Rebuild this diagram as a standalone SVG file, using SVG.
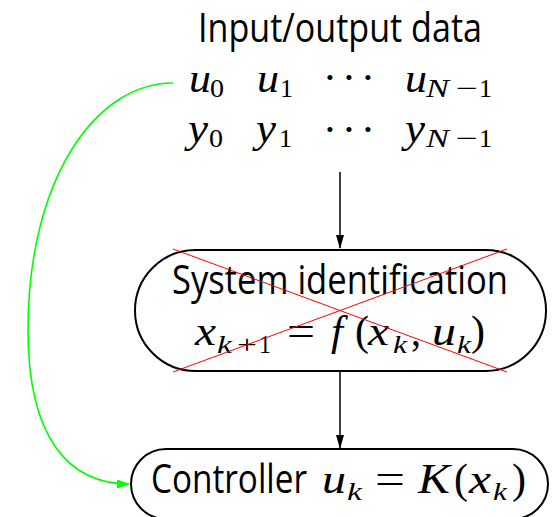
<svg xmlns="http://www.w3.org/2000/svg" width="553" height="517" viewBox="0 0 553 517">
<style>
.sans{font-family:"Open Sans","Liberation Sans",sans-serif;font-size:40px;fill:#000}
.mi{font-family:"Liberation Serif",serif;font-style:italic;font-size:43px;fill:#000}
.mr{font-family:"Liberation Serif",serif;font-style:normal;font-size:43px;fill:#000}
.si{font-family:"Liberation Serif",serif;font-style:italic;font-size:26px;fill:#000}
.sr{font-family:"Liberation Serif",serif;font-style:normal;font-size:26px;fill:#000}
.box{fill:none;stroke:#000;stroke-width:2}
.conn{fill:none;stroke:#000;stroke-width:1.5}
</style>
<defs>
<marker id="ah" markerWidth="14" markerHeight="8" refX="13" refY="4" orient="auto" markerUnits="userSpaceOnUse"><path d="M0,0 L14,4 L0,8 z" fill="#000"/></marker>
<marker id="ahg" markerWidth="13" markerHeight="9" refX="12" refY="4.5" orient="auto" markerUnits="userSpaceOnUse"><path d="M0,0 L13,4.5 L0,9 z" fill="#00ff00"/></marker>
</defs>
<g id="data">
<text class="sans" x="198" y="42" textLength="284" lengthAdjust="spacingAndGlyphs">Input/output data</text>
<text><tspan class="mi" x="189" y="92" textLength="22" lengthAdjust="spacingAndGlyphs">u</tspan><tspan class="sr" x="210" y="97" textLength="14" lengthAdjust="spacingAndGlyphs">0</tspan></text>
<text><tspan class="mi" x="257" y="92" textLength="22" lengthAdjust="spacingAndGlyphs">u</tspan><tspan class="sr" x="280" y="97" textLength="13" lengthAdjust="spacingAndGlyphs">1</tspan></text>
<text class="mr" text-anchor="middle"><tspan x="330" y="92">·</tspan><tspan x="349" y="92">·</tspan><tspan x="368" y="92">·</tspan></text>
<text><tspan class="mi" x="405" y="92" textLength="22" lengthAdjust="spacingAndGlyphs">u</tspan><tspan class="si" x="426" y="97" textLength="23" lengthAdjust="spacingAndGlyphs">N</tspan><tspan class="sr" x="456" y="97" textLength="22" lengthAdjust="spacingAndGlyphs">−</tspan><tspan class="sr" x="479" y="97" textLength="13" lengthAdjust="spacingAndGlyphs">1</tspan></text>
<text><tspan class="mi" x="188" y="142" textLength="20" lengthAdjust="spacingAndGlyphs">y</tspan><tspan class="sr" x="209" y="147" textLength="14" lengthAdjust="spacingAndGlyphs">0</tspan></text>
<text><tspan class="mi" x="256" y="142" textLength="20" lengthAdjust="spacingAndGlyphs">y</tspan><tspan class="sr" x="279" y="147" textLength="13" lengthAdjust="spacingAndGlyphs">1</tspan></text>
<text class="mr" text-anchor="middle"><tspan x="330" y="144">·</tspan><tspan x="349" y="144">·</tspan><tspan x="368" y="144">·</tspan></text>
<text><tspan class="mi" x="405" y="142" textLength="20" lengthAdjust="spacingAndGlyphs">y</tspan><tspan class="si" x="426" y="147" textLength="23" lengthAdjust="spacingAndGlyphs">N</tspan><tspan class="sr" x="456" y="147" textLength="22" lengthAdjust="spacingAndGlyphs">−</tspan><tspan class="sr" x="479" y="147" textLength="13" lengthAdjust="spacingAndGlyphs">1</tspan></text>
</g>
<g id="sysid">
<rect class="box" x="135" y="250" width="411" height="121" rx="60.5" ry="60.5"/>
<text class="sans" x="172" y="294" textLength="336" lengthAdjust="spacingAndGlyphs">System identification</text>
<text><tspan class="mi" x="195" y="345" textLength="21" lengthAdjust="spacingAndGlyphs">x</tspan><tspan class="si" x="217" y="353" textLength="15" lengthAdjust="spacingAndGlyphs">k</tspan><tspan class="sr" x="237" y="353" textLength="20" lengthAdjust="spacingAndGlyphs">+</tspan><tspan class="sr" x="259" y="353" textLength="12" lengthAdjust="spacingAndGlyphs">1</tspan><tspan class="mr" x="287" y="345" textLength="28" lengthAdjust="spacingAndGlyphs">=</tspan><tspan class="mi" x="331" y="345">f</tspan><tspan class="mr" x="355" y="345" textLength="14" lengthAdjust="spacingAndGlyphs">(</tspan><tspan class="mi" x="368" y="345" textLength="21" lengthAdjust="spacingAndGlyphs">x</tspan><tspan class="si" x="393" y="353" textLength="14" lengthAdjust="spacingAndGlyphs">k</tspan><tspan class="mr" x="411" y="345" textLength="10" lengthAdjust="spacingAndGlyphs">,</tspan><tspan class="mi" x="432" y="345" textLength="24" lengthAdjust="spacingAndGlyphs">u</tspan><tspan class="si" x="457" y="353" textLength="14" lengthAdjust="spacingAndGlyphs">k</tspan><tspan class="mr" x="471" y="345" textLength="14" lengthAdjust="spacingAndGlyphs">)</tspan></text>
<line x1="173" y1="249" x2="507" y2="372" stroke="#ff0000" stroke-width="1"/>
<line x1="173" y1="372" x2="507" y2="249" stroke="#ff0000" stroke-width="1"/>
</g>
<g id="controller">
<rect class="box" x="131" y="449" width="417" height="70" rx="35" ry="35"/>
<text><tspan class="sans" x="151" y="493" font-size="36" textLength="156" lengthAdjust="spacingAndGlyphs">Controller</tspan><tspan class="mi" x="322" y="493" textLength="24" lengthAdjust="spacingAndGlyphs">u</tspan><tspan class="si" x="347" y="500" textLength="15" lengthAdjust="spacingAndGlyphs">k</tspan><tspan class="mr" x="375" y="493" textLength="30" lengthAdjust="spacingAndGlyphs">=</tspan><tspan class="mi" x="418" y="493" textLength="32" lengthAdjust="spacingAndGlyphs">K</tspan><tspan class="mr" x="454" y="493" textLength="14" lengthAdjust="spacingAndGlyphs">(</tspan><tspan class="mi" x="469" y="493" textLength="22" lengthAdjust="spacingAndGlyphs">x</tspan><tspan class="si" x="493" y="500" textLength="14" lengthAdjust="spacingAndGlyphs">k</tspan><tspan class="mr" x="512" y="493" textLength="14" lengthAdjust="spacingAndGlyphs">)</tspan></text>
</g>
<g id="connectors">
<line class="conn" x1="340" y1="172" x2="340" y2="248" marker-end="url(#ah)"/>
<line class="conn" x1="340" y1="372" x2="340" y2="448" marker-end="url(#ah)"/>
<path d="M173,83 C95,83 28,180 28,330 C28,440 70,484 129,484" fill="none" stroke="#00ff00" stroke-width="1.6" marker-end="url(#ahg)"/>
</g>
</svg>
